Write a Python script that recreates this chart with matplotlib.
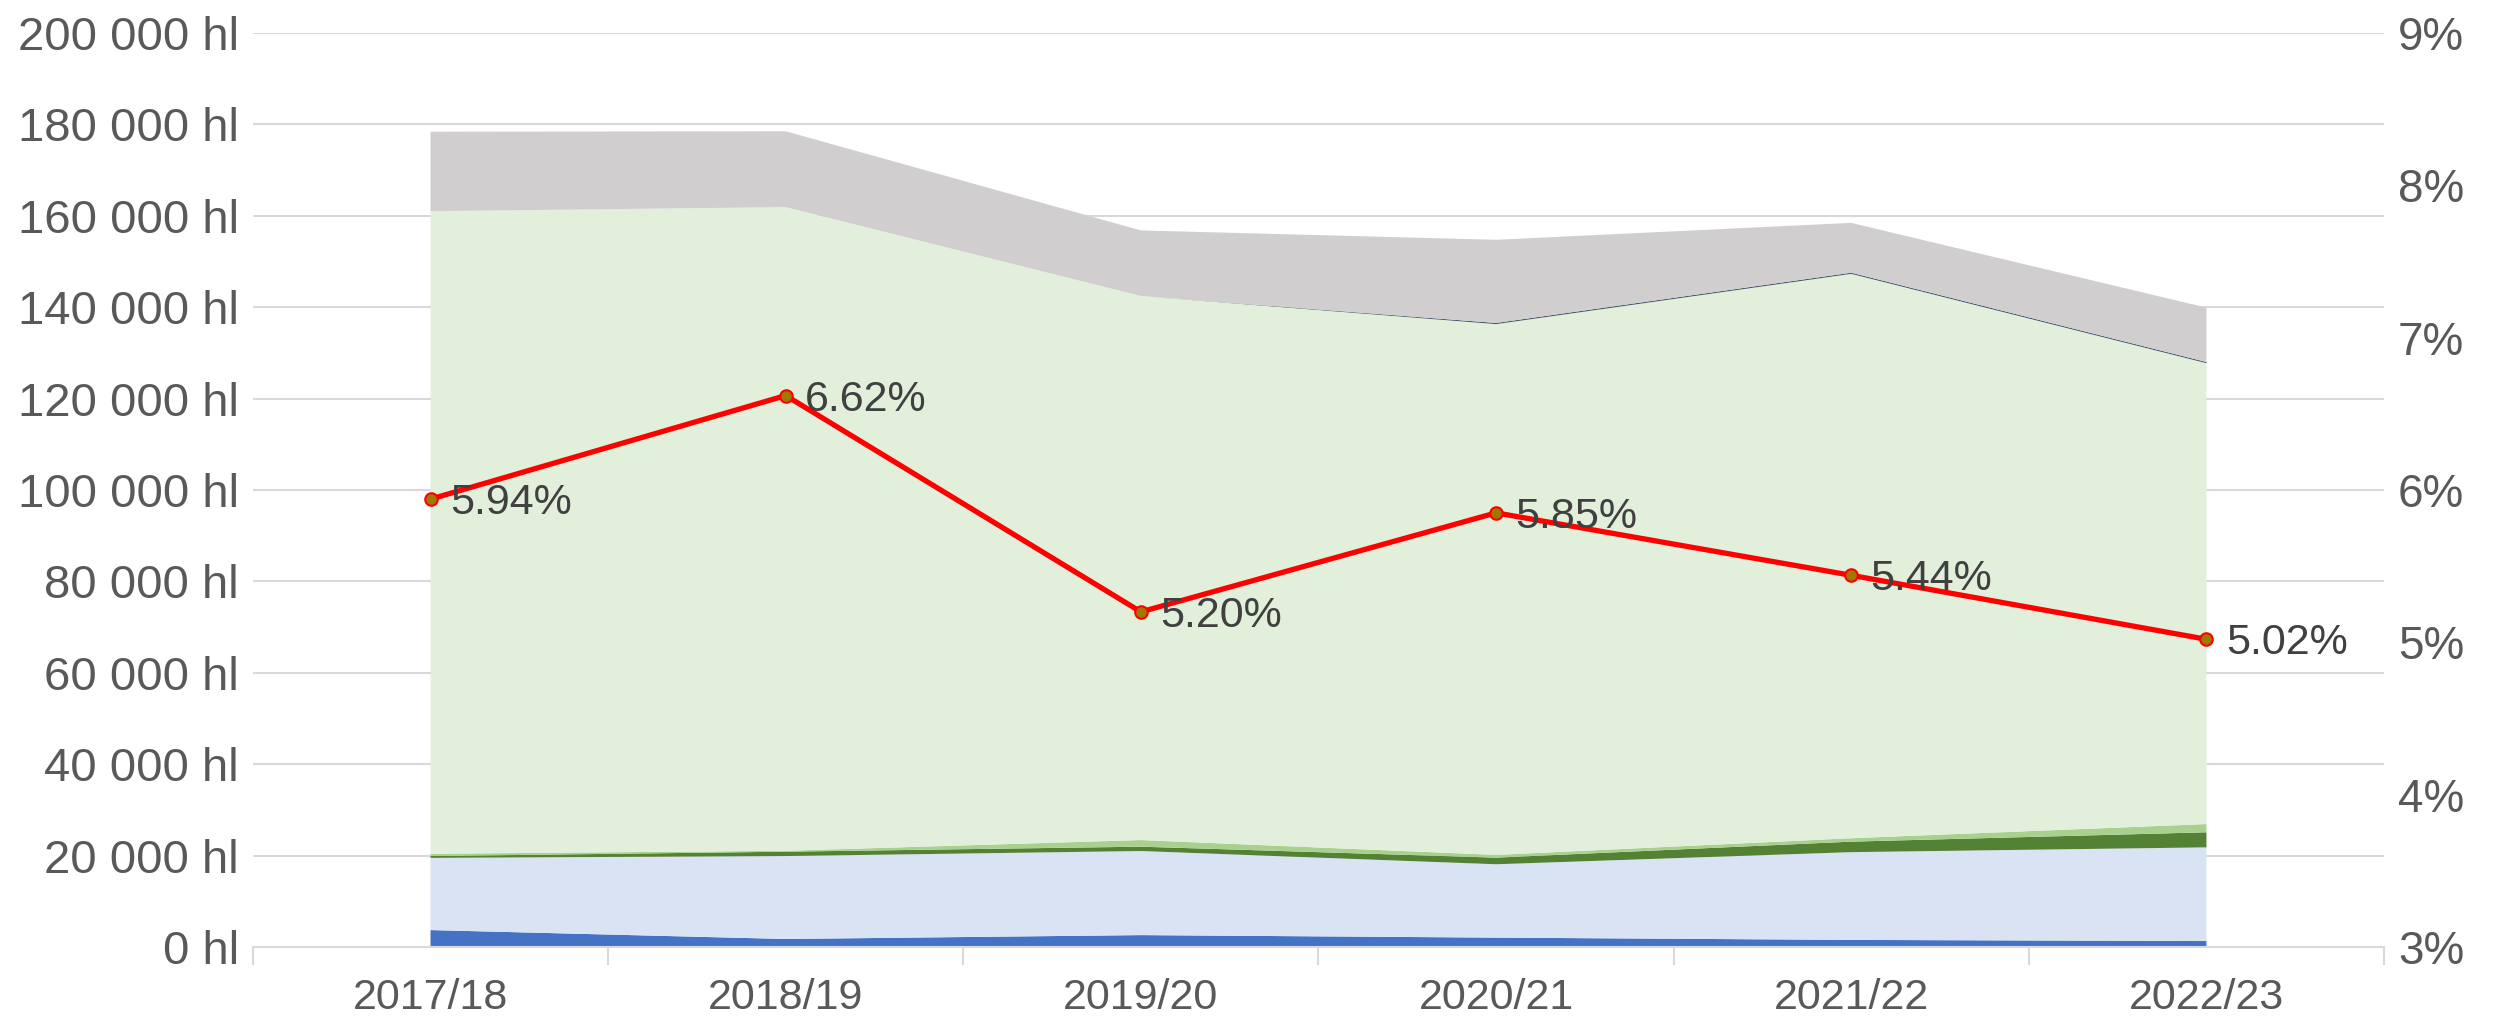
import matplotlib.pyplot as plt
from matplotlib.ticker import FuncFormatter, FixedLocator

# Data (hl per layer, bottom to top) and the percentage line
years = ['2017/18', '2018/19', '2019/20', '2020/21', '2021/22', '2022/23']
dark_blue = [3700, 1750, 2600, 2050, 1550, 1300]
light_blue = [15800, 18150, 18400, 16050, 19200, 20500]
dark_green = [400, 950, 950, 1450, 2300, 3300]
light_green = [500, 200, 1450, 600, 750, 1800]
pale_green = [140600, 140850, 119050, 116150, 123500, 100850]
navy_thin = [0, 0, 0, 250, 250, 250]
gray = [17400, 16600, 14350, 18200, 10900, 11900]
share = [5.94, 6.62, 5.20, 5.85, 5.44, 5.02]

plt.rcParams['font.family'] = ['Liberation Sans', 'DejaVu Sans']

fig = plt.figure(figsize=(25.09, 10.22), dpi=100)
ax = fig.add_axes([0.1008, 0.0734, 0.8494, 0.8943])

x = list(range(len(years)))
layers = [dark_blue, light_blue, dark_green, light_green, pale_green, navy_thin, gray]
colors = ['#4472C4', '#DAE3F3', '#548235', '#A9D18E', '#E2EFDA', '#44546A', '#D0CECE']
ax.stackplot(x, layers, colors=colors, linewidth=0, zorder=2)

ax.set_xlim(-0.5, len(years) - 0.5)
ax.set_ylim(0, 200000)
ax.set_yticks(range(0, 200001, 20000))
ax.yaxis.set_major_formatter(FuncFormatter(lambda v, p: f'{int(v):,}'.replace(',', ' ') + ' hl'))
ax.grid(axis='y', color='#D9D9D9', linewidth=1.5, zorder=0)
ax.set_axisbelow(True)

ax.set_xticks(x)
ax.set_xticklabels(years)
ax.xaxis.set_minor_locator(FixedLocator([i - 0.5 for i in range(len(years) + 1)]))
ax.tick_params(axis='x', which='major', length=0, pad=22, labelsize=31, labelcolor='#595959')
ax.tick_params(axis='x', which='minor', length=13, width=1.5, color='#D9D9D9')
ax.tick_params(axis='y', length=0, pad=10, labelsize=34, labelcolor='#595959')

for s in ['top', 'right', 'left']:
    ax.spines[s].set_visible(False)
ax.spines['bottom'].set_color('#D9D9D9')
ax.spines['bottom'].set_linewidth(1.5)

ax2 = ax.twinx()
ax2.set_ylim(3, 9)
ax2.set_yticks(range(3, 10))
ax2.yaxis.set_major_formatter(FuncFormatter(lambda v, p: f'{int(v)}%'))
ax2.tick_params(axis='y', length=0, pad=10, labelsize=33, labelcolor='#595959')
for s in ax2.spines.values():
    s.set_visible(False)

ax2.plot(x, share, color='#FF0000', linewidth=3.8, marker='o', markersize=9,
         markerfacecolor='#A07800', markeredgecolor='#FF0000', markeredgewidth=1.5, zorder=5)
for xi, v in zip(x, share):
    ax2.annotate(f'{v:.2f}%', (xi, v), xytext=(14, -3), textcoords='offset points',
                 ha='left', va='center', fontsize=31, color='#404040', zorder=6)

fig.savefig('out.png', dpi=100)
